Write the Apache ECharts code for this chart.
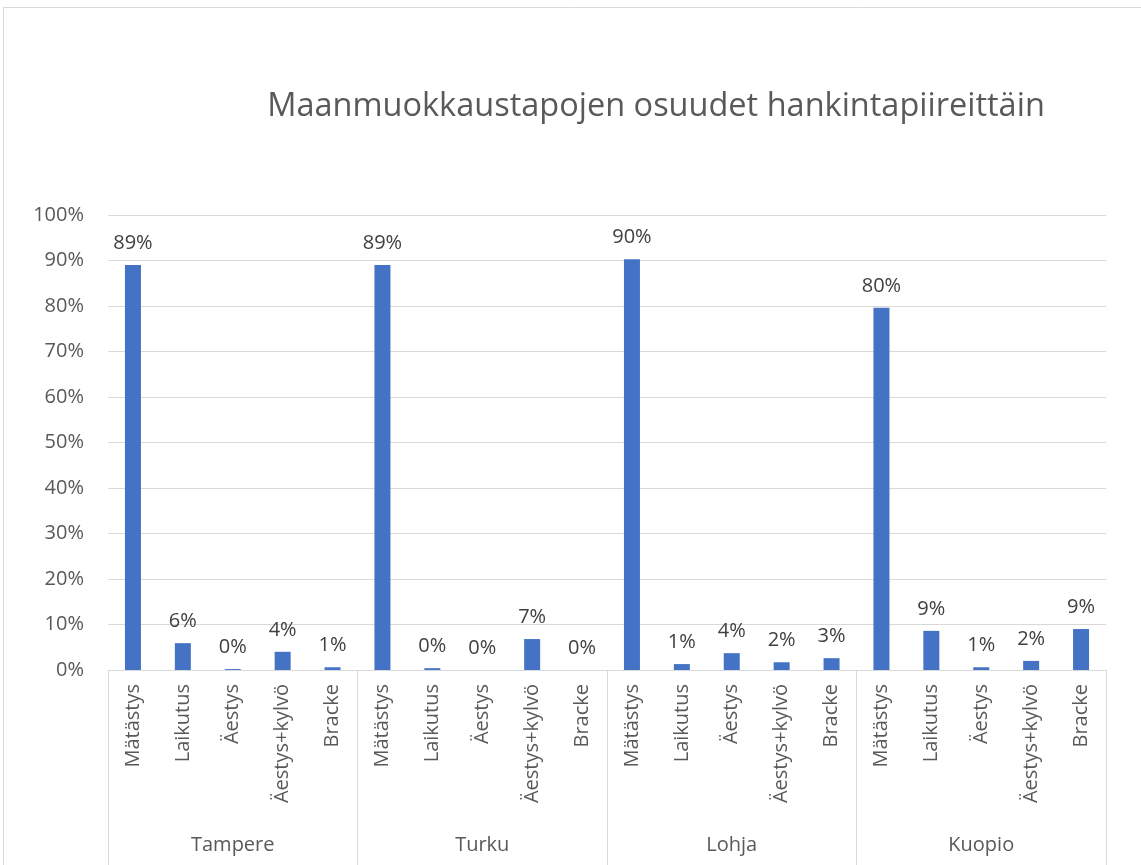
<!DOCTYPE html>
<html><head><meta charset="utf-8">
<script src="https://cdn.jsdelivr.net/npm/echarts@6/dist/echarts.min.js"></script>
<style>html,body{margin:0;padding:0;background:#fff}#c{width:1141px;height:865px}</style>
</head><body><div id="c"></div>
<script>
const methods = ['Mätästys','Laikutus','Äestys','Äestys+kylvö','Bracke'];
const districts = ['Tampere','Turku','Lohja','Kuopio'];
const tampere = [89.0, 5.9, 0.2, 4.0, 0.6];
const turku   = [89.0, 0.4, 0.0, 6.8, 0.0];
const lohja   = [90.3, 1.3, 3.7, 1.7, 2.6];
const kuopio  = [79.6, 8.6, 0.6, 2.0, 9.0];
const yTicks  = [0,10,20,30,40,50,60,70,80,90,100];

const cats = [];
districts.forEach(d => methods.forEach(m => cats.push(m)));
const values = [].concat(tampere, turku, lohja, kuopio);

const font = '"Open Sans", "Noto Sans", sans-serif';
const chart = echarts.init(document.getElementById('c'));
chart.setOption({
  animation: false,
  textStyle: {fontFamily: font},
  title: {
    text: 'Maanmuokkaustapojen osuudet hankintapiireittäin',
    left: 651, top: 85, textAlign: 'center',
    textStyle: {fontSize: 32.5, fontWeight: 'normal', color: '#595959', fontFamily: font}
  },
  graphic: [{type: 'rect', shape: {x: 3.5, y: 7.5, width: 1160, height: 900},
    style: {fill: 'none', stroke: '#d9d9d9', lineWidth: 1}, silent: true}],
  grid: {left: 108, right: 35, top: 215, bottom: 195, containLabel: false},
  xAxis: [{
    type: 'category', data: cats, position: 'bottom',
    axisLine: {show: true, lineStyle: {color: '#d9d9d9'}},
    axisTick: {show: false},
    axisLabel: {rotate: 90, interval: 0, fontSize: 20, color: '#595959', margin: 14, fontFamily: font}
  }, {
    type: 'category', data: districts, position: 'bottom',
    axisLine: {show: false},
    axisTick: {show: true, length: 200, interval: 0, lineStyle: {color: '#d9d9d9'}},
    axisLabel: {fontSize: 20, color: '#595959', margin: 165, interval: 0, fontFamily: font}
  }],
  yAxis: {
    type: 'value', min: 0, max: 100, interval: 10,
    axisLine: {show: false}, axisTick: {show: false},
    splitLine: {lineStyle: {color: '#d9d9d9'}},
    axisLabel: {formatter: v => v + '%', fontSize: 20, color: '#595959', margin: 24, fontFamily: font}
  },
  series: [{
    type: 'bar', data: values, xAxisIndex: 0, barWidth: 16,
    itemStyle: {color: '#4472C4'},
    label: {show: true, position: 'top', distance: 12, fontSize: 20, color: '#404040',
      fontFamily: font, formatter: p => Math.round(p.value) + '%'}
  }]
});
</script></body></html>
